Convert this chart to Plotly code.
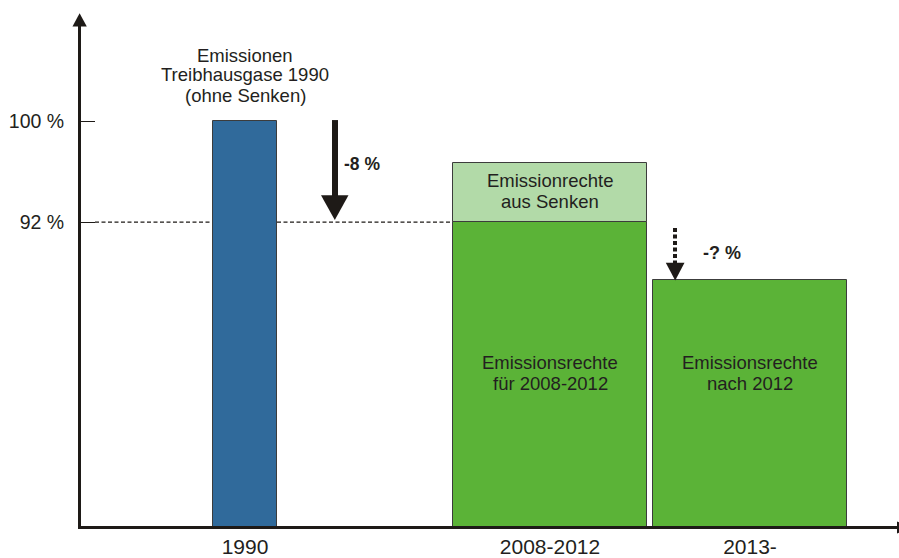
import plotly.graph_objects as go

# ---------------- data ----------------
categories = ["1990", "2008-2012", "2013-"]
main_values = [100.0, 92.0, 87.4]          # top of main bars (% of 1990 emissions)
sink_base = [92.0]                          # emission rights from sinks: base
sink_values = [96.7]                        # emission rights from sinks: top
ytick_vals = [92, 100]
ytick_text = ["92 %", "100 %"]

header_lines = ["Emissionen", "Treibhausgase 1990", "(ohne Senken)"]
sink_lines = ["Emissionrechte", "aus Senken"]
rights1_lines = ["Emissionsrechte", "für 2008-2012"]
rights2_lines = ["Emissionsrechte", "nach 2012"]
cut_known = "-8 %"
cut_unknown = "-? %"

# ---------------- layout constants ----------------
W, H = 899, 558
ML, MR, MT, MB = 81, 0, 26, 27
PLOT_W = W - ML - MR
PLOT_H = H - MT - MB
PX_PER_PCT = 12.75
Y100_PX = 122


def V(py):
    """pixel row -> y value"""
    return 100 - (py - Y100_PX) / PX_PER_PCT


def PX(px):
    return (px - ML) / PLOT_W


def PY(py):
    return (H - MB - py) / PLOT_H


bar_centers = [245, 550, 750]
bar_widths = [64, 194, 194]

BLUE = "#306A9B"
GREEN = "#5BB337"
LIGHT = "#B2DAA8"
EDGE = "#3C3C3C"
INK = "#231F20"
AXIS = "#1E1A17"
FONT = "Liberation Sans, Arial, sans-serif"

fig = go.Figure()
fig.add_trace(go.Bar(
    x=bar_centers, y=main_values, width=bar_widths,
    marker=dict(color=[BLUE, GREEN, GREEN], line=dict(color=EDGE, width=1)),
    hoverinfo="skip",
))
fig.add_trace(go.Bar(
    x=[bar_centers[1]], y=[sink_values[0] - sink_base[0]], base=sink_base,
    width=[bar_widths[1]],
    marker=dict(color=LIGHT, line=dict(color=EDGE, width=1)),
    hoverinfo="skip",
))

shapes = []
# dashed 92% reference line (behind bars)
shapes.append(dict(type="line", xref="x", yref="y", x0=95, x1=453, y0=92, y1=92,
                   line=dict(color=AXIS, width=1.3, dash="4px,2.5px"), layer="below"))
# -8% arrow
shapes.append(dict(type="line", xref="x", yref="y", x0=335, x1=335, y0=V(121), y1=V(199),
                   line=dict(color=AXIS, width=6)))
shapes.append(dict(type="path", xref="x", yref="y",
                   path=f"M 321,{V(197)} L 348.5,{V(197)} L 334.8,{V(222)} Z",
                   fillcolor=AXIS, line=dict(width=0)))
# dashed -?% arrow
shapes.append(dict(type="line", xref="x", yref="y", x0=675, x1=675, y0=V(230), y1=V(266),
                   line=dict(color=AXIS, width=4, dash="4px,2.5px")))
shapes.append(dict(type="path", xref="x", yref="y",
                   path=f"M 665.8,{V(265)} L 684.5,{V(265)} L 675.2,{V(283)} Z",
                   fillcolor=AXIS, line=dict(width=0)))
# y-axis arrowhead
shapes.append(dict(type="path", xref="paper", yref="paper",
                   path=f"M {PX(72.5)},{PY(26.5)} L {PX(86.8)},{PY(26.5)} L {PX(79.6)},{PY(13)} Z",
                   fillcolor=AXIS, line=dict(width=0)))
# x-axis arrowhead (cut at right edge)
shapes.append(dict(type="path", xref="paper", yref="paper",
                   path=f"M {PX(897)},{PY(526.5)} L {PX(897)},{PY(538.5)} L {PX(912)},{PY(532.5)} Z",
                   fillcolor=AXIS, line=dict(width=0)))

annotations = []


def add_lines(lines, x, ys, size=18.5, bold=False):
    for t, py in zip(lines, ys):
        txt = f"<b>{t}</b>" if bold else t
        annotations.append(dict(text=txt, x=x, y=V(py), xref="x", yref="y",
                                showarrow=False, xanchor="center", yanchor="middle",
                                font=dict(family=FONT, size=size, color=INK)))


add_lines(header_lines, 245, [56, 75, 96])
add_lines(sink_lines, 550, [182, 203])
add_lines(rights1_lines, 550, [366, 387])
add_lines(rights2_lines, 750, [366, 387])
add_lines([cut_known], 362, [165], size=17.5, bold=True)
add_lines([cut_unknown], 722, [255], size=18, bold=True)

fig.update_layout(
    width=W, height=H,
    margin=dict(l=ML, r=MR, t=MT, b=MB, pad=0),
    paper_bgcolor="white", plot_bgcolor="white",
    showlegend=False, barmode="overlay", bargap=0,
    shapes=shapes, annotations=annotations,
    xaxis=dict(range=[ML, W - MR], tickvals=bar_centers, ticktext=categories,
               ticks="", showgrid=False, zeroline=False,
               showline=True, linewidth=3, linecolor=AXIS,
               tickfont=dict(family=FONT, size=21, color=INK), fixedrange=True),
    yaxis=dict(range=[V(H - MB), V(MT)], tickvals=ytick_vals, ticktext=ytick_text,
               ticks="inside", ticklen=14, tickwidth=1, tickcolor=AXIS,
               showgrid=False, zeroline=False,
               showline=True, linewidth=3, linecolor=AXIS,
               ticklabelstandoff=10,
               tickfont=dict(family=FONT, size=19.5, color=INK), fixedrange=True),
)

fig.write_html("out.html", config={"displayModeBar": False},
               post_script="document.body.style.margin='0';document.body.style.overflow='hidden';")
